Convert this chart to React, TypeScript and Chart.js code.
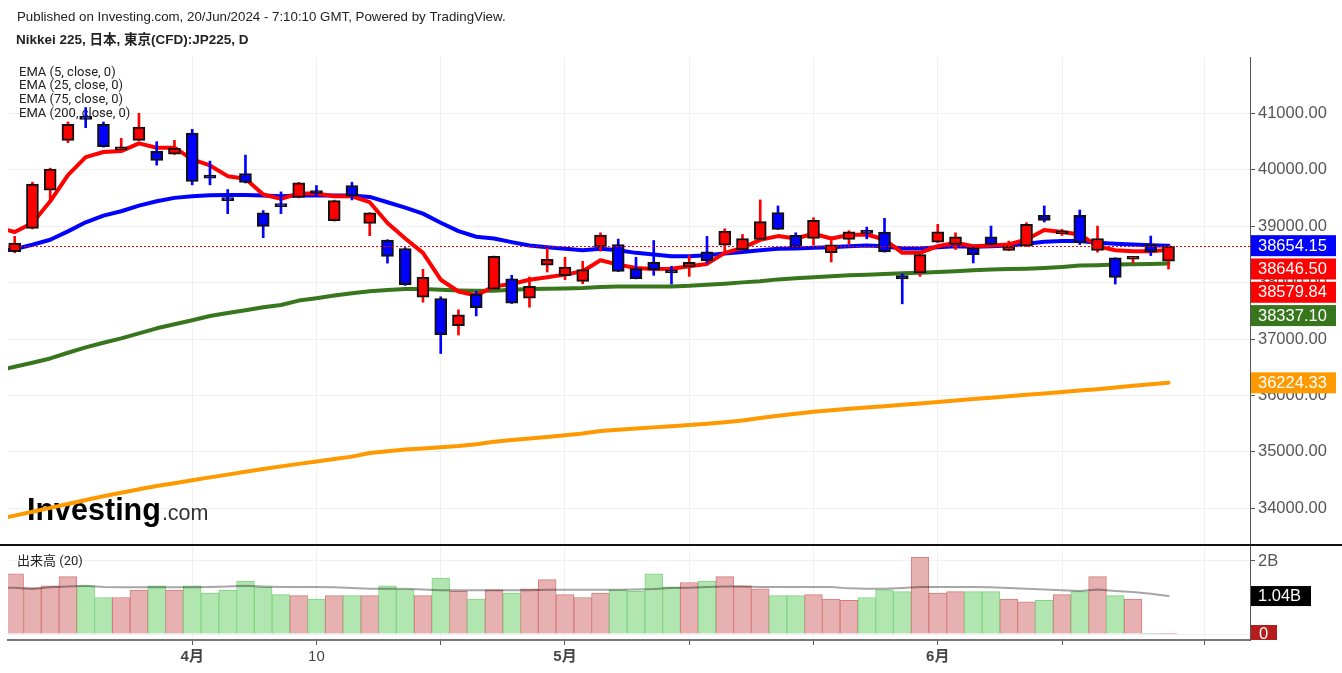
import React, { useEffect, useRef } from "react";
import { Chart, registerables } from "chart.js";
Chart.register(...registerables);

// ---- categories (trading sessions) ----
const dates = [
  "3/18", "3/19", "3/20", "3/21", "3/22", "3/25", "3/26", "3/27", "3/28", "3/29",
  "4/1", "4/2", "4/3", "4/4", "4/5", "4/8", "4/9", "4/10", "4/11", "4/12",
  "4/15", "4/16", "4/17", "4/18", "4/19", "4/22", "4/23", "4/24", "4/25", "4/26",
  "4/30", "5/1", "5/2", "5/7", "5/8", "5/9", "5/10", "5/13", "5/14", "5/15",
  "5/16", "5/17", "5/20", "5/21", "5/22", "5/23", "5/24", "5/27", "5/28", "5/29",
  "5/30", "5/31", "6/3", "6/4", "6/5", "6/6", "6/7", "6/10", "6/11", "6/12",
  "6/13", "6/14", "6/17", "6/18", "6/19", "6/20",
];

// ---- OHLC ----
const opens = [
  38547, 38961, 39637, 40520, 40941, 40804, 40354, 40520, 40324, 40277,
  40650, 39904, 39501, 39933, 39234, 39400, 39507, 39590, 39098, 39720,
  39050, 38754, 38604, 37742, 37719, 37237, 37796, 37885, 38069, 37725,
  38307, 38123, 38022, 38634, 38675, 38247, 38360, 38200, 38277, 38544,
  38663, 38580, 38764, 39240, 38836, 38782, 38530, 38764, 38895, 38895,
  38123, 38170, 38716, 38675, 38616, 38812, 38568, 38645, 39192, 38865,
  39192, 38568, 38437, 38414, 38675, 38378,
];
const highs = [
  38819, 39779, 40028, 40846, 41101, 40846, 40556, 41000, 40496, 40520,
  40716, 40153, 39649, 40259, 39276, 39607, 39775, 39720, 39460, 39779,
  39240, 38760, 38620, 38236, 37748, 37517, 37843, 38470, 38129, 38099,
  38604, 38449, 38378, 38883, 38770, 38449, 38746, 38289, 38479, 38818,
  38954, 38853, 39465, 39358, 38883, 39150, 38746, 38920, 38983, 39139,
  38158, 38500, 39032, 38883, 38620, 39002, 38735, 39061, 39358, 38943,
  39287, 39002, 38440, 38465, 38824, 38650,
];
const lows = [
  38530, 38950, 39471, 40479, 40745, 40400, 40350, 40515, 40081, 40270,
  39732, 39732, 39222, 39765, 38796, 39222, 39500, 39530, 39090, 39465,
  38831, 38345, 37950, 37653, 36744, 37071, 37410, 37880, 37630, 37564,
  38188, 38051, 37980, 38556, 38195, 38065, 38129, 37974, 38111, 38348,
  38556, 38575, 38760, 38940, 38630, 38663, 38366, 38675, 38776, 38540,
  37624, 38111, 38710, 38586, 38348, 38670, 38565, 38640, 39073, 38836,
  38675, 38539, 37974, 38348, 38479, 38240,
];
const closes = [
  38701, 39744, 40010, 40804, 40893, 40407, 40407, 40757, 40164, 40384,
  39791, 39850, 39453, 39773, 38997, 39347, 39767, 39578, 39453, 39530,
  39234, 38464, 37962, 38093, 37077, 37428, 37558, 38467, 37636, 37933,
  38414, 38277, 38230, 38842, 38200, 38069, 38230, 38170, 38360, 38390,
  38913, 38782, 39079, 38943, 38634, 39103, 38670, 38901, 38871, 38544,
  38063, 38497, 38901, 38812, 38497, 38675, 38645, 39032, 39103, 38889,
  38705, 38782, 38093, 38461, 38544, 38646.5,
];

// ---- volume (billions) ----
const volumes = [
  1.65, 1.27, 1.32, 1.57, 1.32, 1.0, 1.0, 1.2, 1.32, 1.2,
  1.32, 1.12, 1.2, 1.45, 1.28, 1.08, 1.05, 0.96, 1.05, 1.05,
  1.05, 1.32, 1.22, 1.05, 1.53, 1.17, 0.96, 1.21, 1.12, 1.24,
  1.49, 1.08, 1.0, 1.12, 1.21, 1.17, 1.65, 1.29, 1.41, 1.45,
  1.57, 1.32, 1.24, 1.05, 1.05, 1.08, 0.96, 0.92, 1.0, 1.21,
  1.16, 2.1, 1.12, 1.16, 1.16, 1.16, 0.96, 0.88, 0.92, 1.08,
  1.16, 1.57, 1.05, 0.96, 0.02, 0.02,
];

// ---- indicator lines: first entry is the session just before dates[0] (off the left edge) ----
const ema5 = [
  38979,
  38896, 39056, 39441, 39904, 40224, 40313, 40330, 40467, 40390, 40390,
  40182, 40076, 39886, 39839, 39560, 39483, 39578, 39578, 39530, 39530,
  39424, 39056, 38782, 38527, 38051, 37843, 37772, 37933, 37974, 38051,
  38093, 38141, 38200, 38396, 38319, 38259, 38241, 38247, 38289, 38331,
  38527, 38616, 38758, 38824, 38782, 38865, 38782, 38842, 38853, 38764,
  38527, 38527, 38645, 38705, 38645, 38657, 38675, 38764, 38931, 38895,
  38853, 38645, 38574, 38556, 38556, 38579.84,
];
const ema25 = [
  38547,
  38594, 38671, 38760, 38908, 39068, 39187, 39264, 39364, 39441, 39501,
  39530, 39548, 39554, 39554, 39542, 39530, 39542, 39548, 39542, 39542,
  39518, 39424, 39329, 39222, 39061, 38913, 38812, 38782, 38717, 38657,
  38628, 38598, 38574, 38598, 38574, 38527, 38497, 38467, 38467, 38485,
  38515, 38544, 38574, 38598, 38604, 38616, 38628, 38645, 38657, 38645,
  38604, 38604, 38628, 38645, 38634, 38645, 38657, 38687, 38723, 38735,
  38735, 38705, 38687, 38675, 38663, 38654.15,
];
const ema75 = [
  36440,
  36508, 36579, 36656, 36757, 36852, 36935, 37012, 37101, 37190, 37261,
  37332, 37409, 37462, 37510, 37563, 37604, 37681, 37723, 37770, 37812,
  37847, 37871, 37888, 37885, 37873, 37861, 37855, 37855, 37873, 37885,
  37891, 37897, 37903, 37921, 37933, 37933, 37933, 37933, 37944, 37962,
  37980, 38004, 38022, 38057, 38075, 38093, 38111, 38129, 38141, 38152,
  38164, 38176, 38188, 38200, 38218, 38230, 38241, 38247, 38259, 38277,
  38301, 38307, 38319, 38325, 38331, 38337.1,
];
const ema200 = [
  33803,
  33872, 33941, 34008, 34078, 34147, 34214, 34276, 34340, 34395, 34446,
  34497, 34549, 34598, 34648, 34696, 34744, 34788, 34831, 34873, 34917,
  34981, 35013, 35041, 35061, 35082, 35103, 35135, 35181, 35212, 35238,
  35266, 35295, 35325, 35371, 35392, 35414, 35435, 35456, 35477, 35500,
  35525, 35555, 35601, 35639, 35676, 35711, 35740, 35763, 35786, 35809,
  35835, 35860, 35885, 35910, 35936, 35961, 35986, 36011, 36035, 36062,
  36087, 36112, 36142, 36172, 36200, 36224.33,
];
const volMA20 = [
  1.27,
  1.27, 1.23, 1.28, 1.3, 1.32, 1.29, 1.28, 1.28, 1.28, 1.28,
  1.28, 1.29, 1.3, 1.32, 1.3, 1.29, 1.29, 1.29, 1.28, 1.26,
  1.24, 1.24, 1.24, 1.22, 1.2, 1.2, 1.2, 1.2, 1.2, 1.2,
  1.21, 1.21, 1.21, 1.21, 1.21, 1.22, 1.23, 1.26, 1.27, 1.29,
  1.3, 1.3, 1.29, 1.29, 1.29, 1.29, 1.29, 1.25, 1.24, 1.24,
  1.26, 1.29, 1.29, 1.29, 1.29, 1.28, 1.26, 1.24, 1.22, 1.2,
  1.18, 1.22, 1.18, 1.15, 1.1, 1.04,
];

// ---- ticks / labels ----
const priceTicks = [34000, 35000, 36000, 37000, 38000, 39000, 40000, 41000];
const volTicks = [0, 2];
const xTickIdx = [10, 17, 24, 31, 38, 45, 52, 59, 67];
const xTickLabels = ["4月", "10", "", "5月", "", "", "6月", "", ""];
const headerText = "Published on Investing.com, 20/Jun/2024 - 7:10:10 GMT, Powered by TradingView.";
const titleText = "Nikkei 225, 日本, 東京(CFD):JP225, D";
const legendLabels = ["EMA (5, close, 0)", "EMA (25, close, 0)", "EMA (75, close, 0)", "EMA (200, close, 0)"];
const volLabel = "出来高 (20)";

const RED = "#ff0000";
const BLUE = "#0000ff";
const GREEN = "#38761d";
const ORANGE = "#ff9900";

const overlay = {
  id: "overlay",
  beforeDraw(chart: any) {
    const ctx = chart.ctx;
    ctx.save();
    ctx.fillStyle = "#ffffff";
    ctx.fillRect(0, 0, chart.width, chart.height);
    ctx.restore();
  },
  beforeDatasetsDraw(chart: any) {
    const ctx = chart.ctx;
    ctx.save();
    ctx.textBaseline = "alphabetic";
    ctx.textAlign = "left";
    ctx.fillStyle = "#000";
    ctx.font = 'bold 30.5px "Liberation Sans"';
    ctx.fillText("Investing", 27, 520);
    const w = ctx.measureText("Investing").width;
    ctx.fillStyle = "#333";
    ctx.font = '21.5px "Liberation Sans"';
    ctx.fillText(".com", 27 + w + 1, 520);
    ctx.fillStyle = "#222";
    ctx.textBaseline = "middle";
    ctx.font = '13px Roboto, "Noto Sans"';
    legendLabels.forEach((t, k) => ctx.fillText(t, 19, 72.5 + k * 13.7));
    ctx.font = '13px Roboto, "Noto Sans CJK JP"';
    ctx.fillText(volLabel, 17, 562);
    ctx.restore();
  },
  afterDatasetsDraw(chart: any) {
    const ctx = chart.ctx;
    const ys = chart.scales.y;
    const a = chart.chartArea;
    const py = Math.round(ys.getPixelForValue(closes[closes.length - 1])) + 0.5;
    ctx.save();
    ctx.strokeStyle = RED;
    ctx.lineWidth = 1;
    ctx.setLineDash([2, 2]);
    ctx.beginPath();
    ctx.moveTo(a.left, py);
    ctx.lineTo(a.right, py);
    ctx.stroke();
    ctx.restore();
  },
  afterDraw(chart: any) {
    const ctx = chart.ctx;
    const ys = chart.scales.y;
    const yv = chart.scales.yv;
    const a = chart.chartArea;
    ctx.save();
    // pane separator
    ctx.fillStyle = "#111";
    ctx.fillRect(0, Math.round(yv.top) - 1, chart.width, 2);
    // header & title
    ctx.textBaseline = "middle";
    ctx.textAlign = "left";
    ctx.fillStyle = "#222";
    ctx.font = '13.3px "Liberation Sans", "Noto Sans CJK JP"';
    ctx.fillText(headerText, 17, 17);
    ctx.font = 'bold 13.5px "Liberation Sans", "Noto Sans CJK JP"';
    ctx.fillText(titleText, 16, 40);

    // price value boxes
    const last = (arr: number[]) => arr[arr.length - 1];
    const boxes = [
      { v: last(ema25), bg: BLUE },
      { v: last(closes), bg: RED },
      { v: last(ema5), bg: RED },
      { v: last(ema75), bg: GREEN },
      { v: last(ema200), bg: ORANGE },
    ].sort((p, q) => q.v - p.v);
    const bh = 21;
    let prev = -1e9;
    ctx.font = '16.5px "Liberation Sans"';
    for (const b of boxes) {
      let cy = ys.getPixelForValue(b.v);
      if (cy < prev + bh + 2.3) cy = prev + bh + 2.3;
      prev = cy;
      ctx.fillStyle = b.bg;
      ctx.fillRect(a.right + 1, cy - bh / 2, 85, bh);
      ctx.fillStyle = "#fff";
      ctx.fillText(b.v.toFixed(2), a.right + 8, cy + 0.5);
    }
    // volume boxes
    ctx.beginPath();
    ctx.rect(a.right, yv.top, chart.width - a.right, yv.bottom - yv.top);
    ctx.clip();
    const vmaY = yv.getPixelForValue(last(volMA20));
    ctx.fillStyle = "#000";
    ctx.fillRect(a.right + 1, vmaY - 10, 60, 20);
    ctx.fillStyle = "#fff";
    ctx.fillText(last(volMA20).toFixed(2) + "B", a.right + 8, vmaY + 0.5);
    const v0 = last(volumes) < 0.05 ? 0 : last(volumes);
    const vY = yv.getPixelForValue(v0);
    ctx.fillStyle = "#b71c1c";
    ctx.fillRect(a.right + 1, vY - 9, 26, 18);
    ctx.fillStyle = "#fff";
    ctx.fillText(String(v0), a.right + 9, vY + 0.5);
    ctx.restore();
  },
};

export default function App() {
  const ref = useRef<HTMLCanvasElement>(null);
  useEffect(() => {
    const canvas = ref.current!;
    const idx = dates.map((_, i) => i);
    const up = idx.map((i) => closes[i] >= opens[i]);
    const cc = up.map((u) => (u ? RED : BLUE));
    const line = (arr: number[], color: string, order: number, yAxisID = "y", width = 4) => ({
      type: "line" as const,
      data: arr.map((v, k) => ({ x: k - 1, y: v })),
      yAxisID,
      borderColor: color,
      borderWidth: width,
      pointRadius: 0,
      tension: 0,
      borderJoinStyle: "round" as const,
      borderCapStyle: "round" as const,
      order,
    });
    const chart = new Chart(canvas, {
      type: "bar",
      data: {
        datasets: [
          {
            type: "bar",
            label: "body",
            data: idx.map((i) => ({ x: i, y: [opens[i], closes[i]] })),
            yAxisID: "y",
            backgroundColor: cc,
            borderColor: "#111",
            borderWidth: 2,
            borderSkipped: false,
            barThickness: 12,
            minBarLength: 3,
            grouped: false,
            order: 0,
          } as any,
          {
            type: "bar",
            label: "wick",
            data: idx.map((i) => ({ x: i, y: [lows[i], highs[i]] })),
            yAxisID: "y",
            backgroundColor: cc,
            borderWidth: 0,
            barThickness: 2,
            grouped: false,
            order: 1,
          } as any,
          line(volMA20, "rgba(0,0,0,0.35)", 2, "yv", 2),
          line(ema5, RED, 3),
          line(ema25, BLUE, 4),
          line(ema75, GREEN, 5),
          line(ema200, ORANGE, 6),
          {
            type: "bar",
            label: "volume",
            data: idx.map((i) => ({ x: i, y: volumes[i] })),
            yAxisID: "yv",
            backgroundColor: up.map((u) => (u ? "#e8b1b1" : "#b1e6b1")),
            borderColor: up.map((u) => (u ? "#d67c7c" : "#80d480")),
            borderWidth: 1,
            barPercentage: 1,
            categoryPercentage: 1,
            grouped: false,
            order: 7,
          } as any,
        ],
      },
      options: {
        responsive: false,
        animation: false,
        devicePixelRatio: 1,
        layout: { padding: { top: 57, left: 8, right: 0, bottom: 0 } },
        plugins: { legend: { display: false }, tooltip: { enabled: false } },
        scales: {
          x: {
            type: "linear",
            min: -0.377,
            max: 69.59,
            offset: false,
            afterBuildTicks: (s: any) => {
              s.ticks = xTickIdx.map((v) => ({ value: v }));
            },
            afterFit: (s: any) => {
              s.height = 33;
            },
            grid: { offset: false, color: "#f0f0f0", lineWidth: 1, tickLength: 5, tickColor: "#555" },
            border: { display: true, color: "#777", width: 2 },
            ticks: {
              autoSkip: false,
              maxRotation: 0,
              padding: 3,
              color: "#444",
              font: (c: any) => ({
                size: 15,
                family: '"Liberation Sans", "Noto Sans CJK JP"',
                weight: (xTickLabels[c.index] || "").includes("月") ? "bold" : "normal",
              }),
              callback: (v: any) => {
                const k = xTickIdx.indexOf(Number(v));
                return k >= 0 ? xTickLabels[k] : "";
              },
            },
          },
          y: {
            type: "linear",
            position: "right",
            stack: "panes",
            stackWeight: 488,
            min: 33351,
            max: 41997,
            afterBuildTicks: (s: any) => {
              s.ticks = priceTicks.map((v) => ({ value: v }));
            },
            afterFit: (s: any) => {
              s.width = 92;
            },
            grid: { color: "#f0f0f0", lineWidth: 1, tickLength: 5, tickColor: "#555" },
            border: { display: true, color: "#555", width: 1 },
            ticks: {
              padding: 3,
              color: "#555",
              font: { size: 16.5, family: '"Liberation Sans"' },
              callback: (v: any) => Number(v).toFixed(2),
            },
          },
          yv: {
            type: "linear",
            position: "right",
            stack: "panes",
            stackWeight: 95,
            min: -0.164,
            max: 2.438,
            afterBuildTicks: (s: any) => {
              s.ticks = volTicks.map((v) => ({ value: v }));
            },
            afterFit: (s: any) => {
              s.width = 92;
            },
            grid: { color: "#f0f0f0", lineWidth: 1, tickLength: 5, tickColor: "#555" },
            border: { display: true, color: "#555", width: 1 },
            ticks: {
              padding: 3,
              color: "#555",
              font: { size: 16.5, family: '"Liberation Sans"' },
              callback: (v: any) => (Number(v) === 0 ? "0" : v + "B"),
            },
          },
        },
      } as any,
      plugins: [overlay],
    });
    return () => chart.destroy();
  }, []);
  return (
    <div style={{ position: "fixed", left: 0, top: 0, width: 1342, height: 673, background: "#fff" }}>
      <canvas ref={ref} width={1342} height={673} style={{ display: "block", width: 1342, height: 673 }} />
    </div>
  );
}
